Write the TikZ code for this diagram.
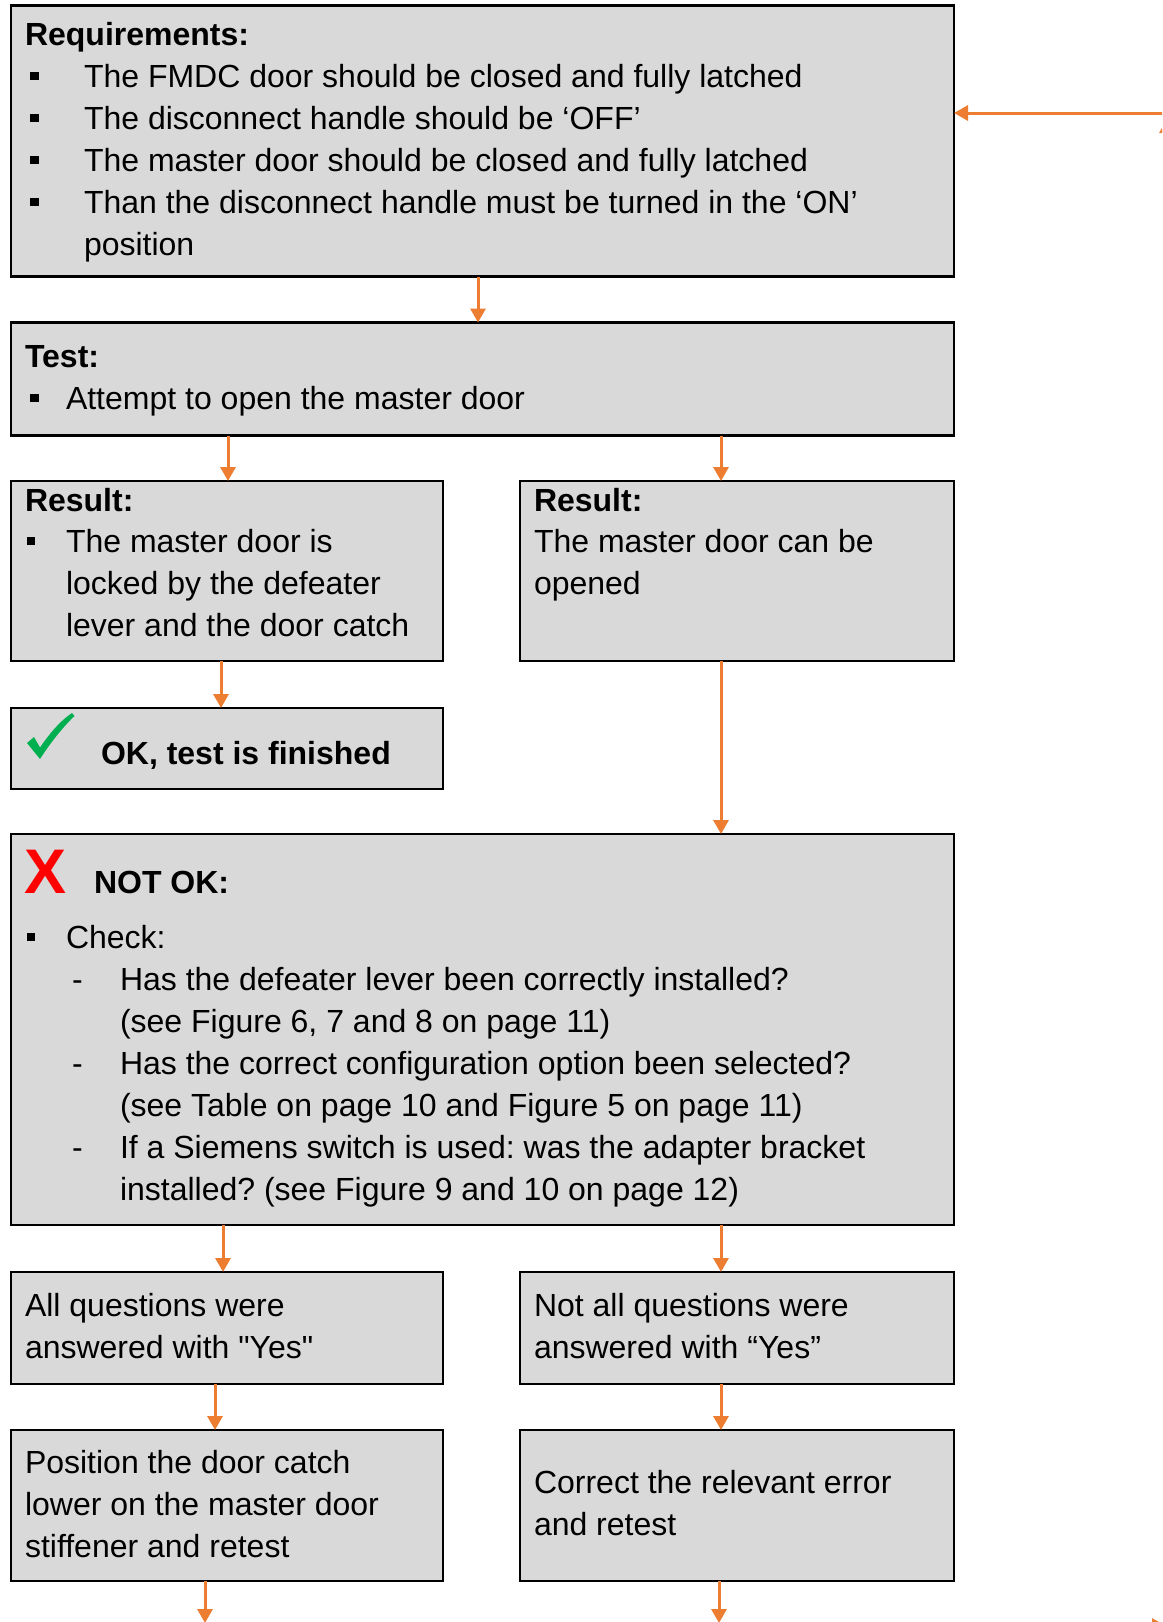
\documentclass[tikz,border=0pt]{standalone}
\usepackage{fontspec}
\setmainfont{Liberation Sans}
\newfontfamily\plainfont{Liberation Sans}
\usetikzlibrary{arrows.meta}
\definecolor{boxgray}{HTML}{D9D9D9}
\definecolor{arrorange}{HTML}{ED7D31}
\definecolor{okgreen}{HTML}{00B050}
\definecolor{xred}{HTML}{FF0000}
\frenchspacing
\begin{document}
\begin{tikzpicture}[x=1pt,y=-1pt,
  box/.style={draw=black,line width=2.6pt,fill=boxgray,inner sep=0pt,outer sep=0pt},
  txt/.style={anchor=base west,inner sep=0pt,outer sep=0pt,font=\fontsize{32}{38}\selectfont},
  hdr/.style={anchor=base west,inner sep=0pt,outer sep=0pt,font=\fontsize{32}{38}\selectfont\bfseries},
  bul/.style={fill=black,inner sep=0pt,outer sep=0pt,minimum size=8.5pt},
  arr/.style={draw=arrorange,color=arrorange,line width=3pt,-{Triangle[width=15pt,length=14pt]}}
]
\useasboundingbox (0,0) rectangle (1162,1622);
\clip (0,0) rectangle (1162,1622);
\fill[white] (0,0) rectangle (1162,1622);

% boxes
\node[box,minimum width=943,minimum height=271] (req) at (482.5,141) {};
\node[box,minimum width=943,minimum height=113] (test) at (482.5,379) {};
\node[box,minimum width=432,minimum height=180] (resl) at (227,571) {};
\node[box,minimum width=434,minimum height=180] (resr) at (737,571) {};
\node[box,minimum width=432,minimum height=81] (ok) at (227,748.5) {};
\node[box,minimum width=943,minimum height=391] (notok) at (482.5,1029.5) {};
\node[box,minimum width=432,minimum height=112] (allq) at (227,1328) {};
\node[box,minimum width=434,minimum height=112] (notall) at (737,1328) {};
\node[box,minimum width=432,minimum height=151] (pos) at (227,1505.5) {};
\node[box,minimum width=434,minimum height=151] (corr) at (737,1505.5) {};

% Requirements
\node[hdr] (rq0) at (25,45) {Requirements:};
\node[bul] (rb1) at (34.5,76) {};
\node[txt] (rq1) at (84,87) {The FMDC door should be closed and fully latched};
\node[bul] (rb2) at (34.5,118) {};
\node[txt] (rq2) at (84,129) {The disconnect handle should be ‘OFF’};
\node[bul] (rb3) at (34.5,160) {};
\node[txt] (rq3) at (84,171) {The master door should be closed and fully latched};
\node[bul] (rb4) at (34.5,202) {};
\node[txt] (rq4) at (84,213) {Than the disconnect handle must be turned in the ‘ON’};
\node[txt] (rq5) at (84,255) {position};

% Test
\node[hdr] (ts0) at (25,367) {Test:};
\node[bul] (tb1) at (34.5,398) {};
\node[txt] (ts1) at (66,409) {Attempt to open the master door};

% Result left
\node[hdr] (rl0) at (25,511) {Result:};
\node[bul] (lb1) at (31,541) {};
\node[txt] (rl1) at (66,552) {The master door is};
\node[txt] (rl2) at (66,594) {locked by the defeater};
\node[txt] (rl3) at (66,636) {lever and the door catch};

% Result right
\node[hdr] (rr0) at (534,511) {Result:};
\node[txt] (rr1) at (534,552) {The master door can be};
\node[txt] (rr2) at (534,594) {opened};

% OK
\fill[okgreen] (27,743) -- (34,737) -- (40,747.5) .. controls (50,733) and (60,721) .. (72,713) -- (74.5,716) .. controls (61,729) and (49,745) .. (40,759) -- cycle;
\node[hdr] (okt) at (101,764) {OK, test is finished};

% NOT OK
\node[anchor=base west,inner sep=0pt,text=xred,font=\fontsize{63}{70}\selectfont\bfseries] (xmark) at (24,893) {X};
\node[hdr] (nk0) at (94,893) {NOT OK:};
\node[bul] (nb1) at (31,937) {};
\node[txt] (nk1) at (66,948) {Check:};
\node[txt] (d1) at (72,990) {-};
\node[txt] (nk2) at (120,990) {Has the defeater lever been correctly installed?};
\node[txt] (nk3) at (120,1032) {(see Figure 6, 7 and 8 on page 11)};
\node[txt] (d2) at (72,1074) {-};
\node[txt] (nk4) at (120,1074) {Has the correct configuration option been selected?};
\node[txt] (nk5) at (120,1116) {(see Table on page 10 and Figure 5 on page 11)};
\node[txt] (d3) at (72,1158) {-};
\node[txt] (nk6) at (120,1158) {If a Siemens switch is used: was the adapter bracket};
\node[txt] (nk7) at (120,1200) {installed? (see Figure 9 and 10 on page 12)};

% bottom boxes text
\node[txt] (aq1) at (25,1316) {All questions were};
\node[txt] (aq2) at (25,1358) {\plainfont answered with "Yes"};
\node[txt] (na1) at (534,1316) {Not all questions were};
\node[txt] (na2) at (534,1358) {answered with “Yes”};
\node[txt] (ps1) at (25,1473) {Position the door catch};
\node[txt] (ps2) at (25,1515) {lower on the master door};
\node[txt] (ps3) at (25,1557) {stiffener and retest};
\node[txt] (cr1) at (534,1493) {Correct the relevant error};
\node[txt] (cr2) at (534,1535) {and retest};

% connector x positions
\coordinate (xa) at (478,0);
\coordinate (xb) at (228,0);
\coordinate (xc) at (721,0);
\coordinate (xd) at (221,0);
\coordinate (xe) at (223,0);
\coordinate (xf) at (215,0);
\coordinate (pb) at (205,1623);
\coordinate (cb) at (719,1623);
\coordinate (rin) at (1180,113);
\coordinate (u1) at (1167,300);
\coordinate (u2) at (1167,119);
\coordinate (b1) at (1100,1626);
\coordinate (b2) at (1166,1626);

\draw[arr] (req.south -| xa) -- (test.north -| xa);
\draw[arr] (test.south -| xb) -- (resl.north -| xb);
\draw[arr] (test.south -| xc) -- (resr.north -| xc);
\draw[arr] (resl.south -| xd) -- (ok.north -| xd);
\draw[arr] (resr.south -| xc) -- (notok.north -| xc);
\draw[arr] (notok.south -| xe) -- (allq.north -| xe);
\draw[arr] (notok.south -| xc) -- (notall.north -| xc);
\draw[arr] (allq.south -| xf) -- (pos.north -| xf);
\draw[arr] (notall.south -| xc) -- (corr.north -| xc);
\draw[arr] (pos.south -| pb) -- (pb);
\draw[arr] (corr.south -| cb) -- (cb);
\draw[arr] (rin) -- (req.east |- rin);
\draw[arr] (u1) -- (u2);
\draw[arr] (b1) -- (b2);
\end{tikzpicture}
\end{document}
